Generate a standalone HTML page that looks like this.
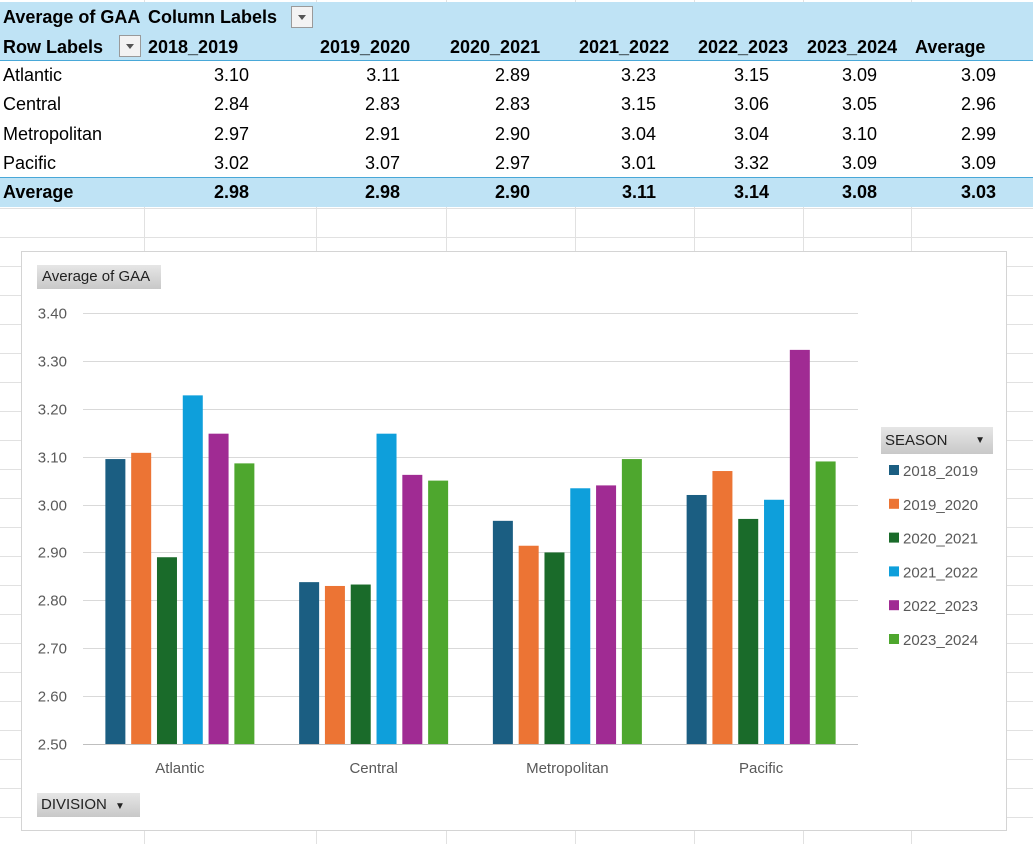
<!DOCTYPE html>
<html><head><meta charset="utf-8">
<style>
body{margin:0;width:1033px;height:844px;overflow:hidden;position:relative;font-family:"Liberation Sans",sans-serif;
background-color:#fff;
background-image:repeating-linear-gradient(to bottom,transparent 0,transparent 28px,#e1e1e1 28px,#e1e1e1 29px),
linear-gradient(to right,transparent 144px,#e1e1e1 144px,#e1e1e1 145px,transparent 145px,transparent 316px,#e1e1e1 316px,#e1e1e1 317px,transparent 317px,transparent 446px,#e1e1e1 446px,#e1e1e1 447px,transparent 447px,transparent 575px,#e1e1e1 575px,#e1e1e1 576px,transparent 576px,transparent 694px,#e1e1e1 694px,#e1e1e1 695px,transparent 695px,transparent 803px,#e1e1e1 803px,#e1e1e1 804px,transparent 804px,transparent 911px,#e1e1e1 911px,#e1e1e1 912px,transparent 912px);
background-position:0 -23px,0 0;}
.t{position:absolute;font-size:18px;color:#000;white-space:nowrap}
.b{font-weight:bold}
.r{text-align:right}
.band{position:absolute;left:0;width:1033px;background:#bfe3f5}
.dd{position:absolute;width:22px;height:22px;border:1px solid #9a9a9a;background:#f3f3f3;box-sizing:border-box}
.dd:after{content:"";position:absolute;left:6px;top:8px;border-left:4px solid transparent;border-right:4px solid transparent;border-top:5px solid #555}
</style></head><body>
<div class="band" style="top:2px;height:59px"></div>
<div style="position:absolute;left:0;top:60px;width:1033px;height:1px;background:#49a8d8"></div>
<div style="position:absolute;left:0;top:61px;width:1033px;height:116px;background:#fff"></div>
<div class="band" style="top:177px;height:29px;border-top:1px solid #49a8d8"></div>
<div class="t b" style="left:3px;top:7px">Average of GAA</div>
<div class="t b" style="left:148px;top:7px">Column Labels</div>
<div class="dd" style="left:291px;top:6px"></div>
<div class="t b" style="left:3px;top:37px">Row Labels</div>
<div class="dd" style="left:119px;top:35px"></div>
<div id="tbl"></div>

<div style="position:absolute;left:21px;top:251px;width:984px;height:578px;border:1px solid #d4d4d4;background:#fff"></div>
<div style="position:absolute;left:37px;top:265px;width:124px;height:24px;background:linear-gradient(#e6e6e6,#c8c8c8);font-size:15px;line-height:24px;padding-left:5px;box-sizing:border-box;color:#222">Average of GAA</div>
<div style="position:absolute;left:37px;top:793px;width:103px;height:24px;background:linear-gradient(#e6e6e6,#c8c8c8);font-size:15px;line-height:24px;padding-left:4px;box-sizing:border-box;color:#222">DIVISION <span style="font-size:10px;margin-left:4px">▼</span></div>
<div style="position:absolute;left:881px;top:427px;width:112px;height:27px;background:linear-gradient(#e6e6e6,#c8c8c8);font-size:15px;line-height:27px;padding-left:4px;box-sizing:border-box;color:#222">SEASON <span style="font-size:10px;position:absolute;right:8px">▼</span></div>
<svg id="ch" width="1033" height="844" style="position:absolute;left:0;top:0"></svg>
<script>
const divisions=["Atlantic","Central","Metropolitan","Pacific"];
const seasons=["2018_2019","2019_2020","2020_2021","2021_2022","2022_2023","2023_2024"];
const colors=["#1b5e82","#ec7434","#1a6b2a","#0e9fdb","#a02b93","#4ea72e"];
const s2018=[3.095,2.838,2.966,3.02];
const s2019=[3.108,2.830,2.914,3.07];
const s2020=[2.890,2.833,2.900,2.97];
const s2021=[3.228,3.148,3.034,3.01];
const s2022=[3.148,3.062,3.040,3.323];
const s2023=[3.086,3.050,3.095,3.09];
const yTicks=["2.50","2.60","2.70","2.80","2.90","3.00","3.10","3.20","3.30","3.40"];
const tblRows=[["Atlantic","3.10","3.11","2.89","3.23","3.15","3.09","3.09"],["Central","2.84","2.83","2.83","3.15","3.06","3.05","2.96"],["Metropolitan","2.97","2.91","2.90","3.04","3.04","3.10","2.99"],["Pacific","3.02","3.07","2.97","3.01","3.32","3.09","3.09"],["Average","2.98","2.98","2.90","3.11","3.14","3.08","3.03"]];
const colHdr=["2018_2019","2019_2020","2020_2021","2021_2022","2022_2023","2023_2024","Average"];
const series=[s2018,s2019,s2020,s2021,s2022,s2023];

const colR=[249,400,530,656,769,877,996];
const hdrL=[148,320,450,579,698,807,915];
const tbl=document.getElementById('tbl');
colHdr.forEach((h,i)=>{const d=document.createElement('div');d.className='t b';d.style.left=hdrL[i]+'px';d.style.top='37px';d.textContent=h;


tbl.appendChild(d);});
tblRows.forEach((row,ri)=>{const top=65+ri*29.3;const bold=ri==4;
row.forEach((v,ci)=>{const d=document.createElement('div');d.className='t'+(bold?' b':'');d.style.top=top+'px';
if(ci==0){d.style.left='3px';}else{d.style.right=(1033-colR[ci-1])+'px';}
d.textContent=v;


tbl.appendChild(d);});});

const NS="http://www.w3.org/2000/svg";const svg=document.getElementById('ch');
const x0=83,x1=858,yTop=313,yBot=744,vMin=2.5,vMax=3.4;
const y=v=>yBot-(v-vMin)/(vMax-vMin)*(yBot-yTop);
const gw=(x1-x0)/divisions.length;
function el(t,a){const e=document.createElementNS(NS,t);for(const k in a)e.setAttribute(k,a[k]);svg.appendChild(e);return e;}
yTicks.forEach(t=>{const v=parseFloat(t);const yy=Math.round(y(v))+0.5;
const l=el('line',{x1:x0,x2:x1,y1:yy,y2:yy,stroke:v==2.5?'#bfbfbf':'#d9d9d9','stroke-width':1});


const tx=el('text',{x:67,y:yy+5,'text-anchor':'end','font-size':15,fill:'#595959','font-family':'Liberation Sans, sans-serif'});tx.textContent=t;

});
const bw=20,pitch=25.8;
divisions.forEach((d,gi)=>{const cx=x0+gw*(gi+0.5);
series.forEach((s,si)=>{const bx=cx-(pitch*5+bw)/2+si*pitch;const top=y(s[gi]);
const r=el('rect',{x:bx,y:top,width:bw,height:yBot-top,fill:colors[si]});

});
const tx=el('text',{x:cx,y:773,'text-anchor':'middle','font-size':15,fill:'#595959','font-family':'Liberation Sans, sans-serif'});tx.textContent=d;

});
seasons.forEach((s,i)=>{const yy=471+i*33.8;
const r=el('rect',{x:889,y:yy-6,width:10,height:10,fill:colors[i]});


const tx=el('text',{x:903,y:yy+5,'font-size':15,fill:'#595959','font-family':'Liberation Sans, sans-serif'});tx.textContent=s;

});
</script>
</body></html>
